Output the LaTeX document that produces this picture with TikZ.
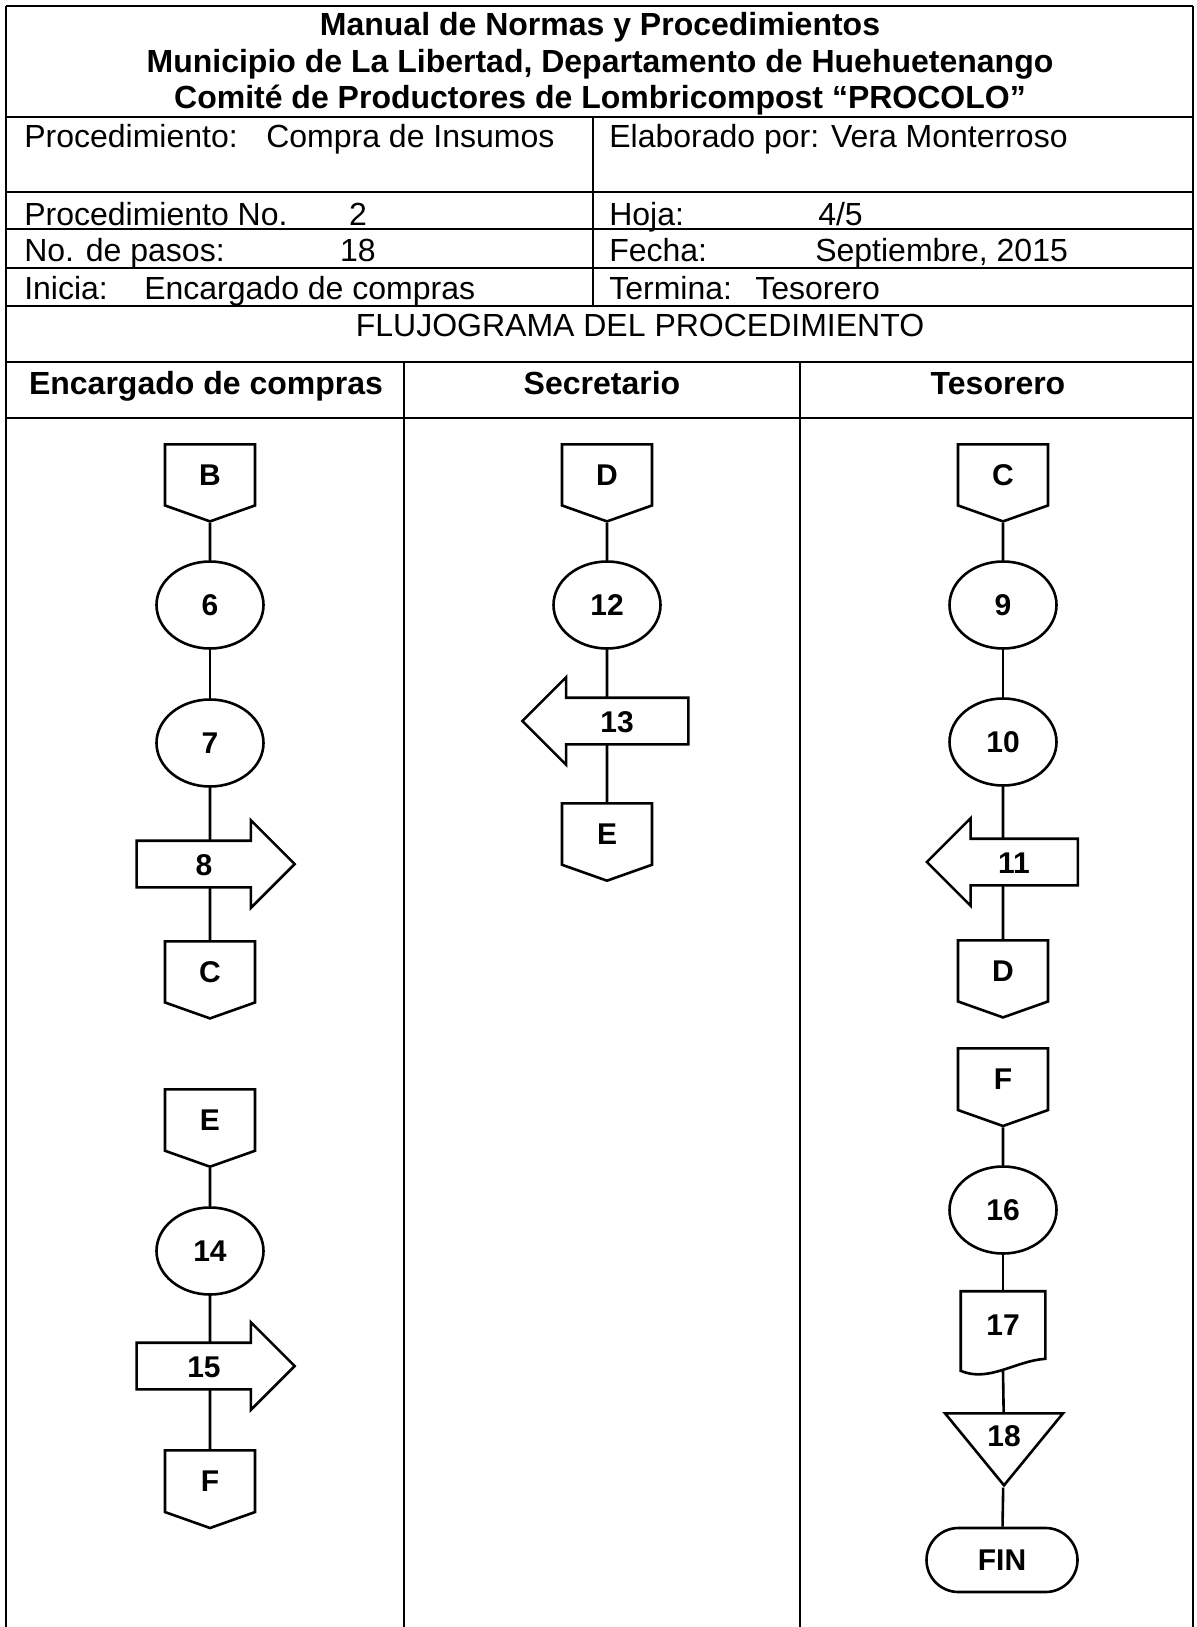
\documentclass[tikz,border=0pt]{standalone}
\usepackage{fontspec}
\setmainfont{Liberation Sans}
\usetikzlibrary{shapes.geometric,shapes.arrows,shapes.symbols,shapes.misc}

\newcommand\cellfont{\fontsize{16}{19}\selectfont}
\newcommand\markfont{\fontsize{15}{18}\selectfont\bfseries}

\tikzset{
  cell/.style={anchor=base west, inner sep=0pt, font=\cellfont},
  heading/.style={anchor=base, inner sep=0pt, font=\cellfont\bfseries},
  proc/.style={draw, ellipse, minimum width=53.5pt, minimum height=43.5pt,
    inner sep=0pt, font=\markfont},
  offpage/.style={draw, signal, signal to=south, signal from=nowhere,
    signal pointer angle=141, minimum width=45pt, minimum height=32.5pt,
    inner sep=0pt, anchor=north, font=\markfont},
  sendright/.style={draw, fill=white, single arrow,
    single arrow head extend=10.25pt, minimum height=79pt, text height=11pt,
    text depth=0pt, inner ysep=5.5pt, inner xsep=2pt, font=\markfont},
  sendleft/.style={sendright, shape border rotate=180},
  docu/.style={minimum width=41pt, minimum height=32.5pt, inner sep=0pt,
    font=\markfont},
  archive/.style={draw, isosceles triangle, shape border rotate=-90,
    isosceles triangle stretches, minimum width=59pt, minimum height=36pt,
    inner sep=0pt, anchor=north, font=\markfont},
  endbox/.style={draw, rounded rectangle, minimum width=75.5pt,
    minimum height=32pt, inner sep=0pt, font=\markfont},
}

\begin{document}
\begin{tikzpicture}[x=0.5pt, y=-0.5pt, line width=1.3pt]
\useasboundingbox (0,0) rectangle (1196,1627);

    % ------------------------------------------------------------
    % frame of the sheet
    % ------------------------------------------------------------
    \draw (6,6) -- (1193,6);
    \draw (6,6) -- (6,1627);
    \draw (1193,6) -- (1193,1627);
    \foreach \y in {117,192,229,268,306,362,418}
        \draw (6,\y) -- (1193,\y);
    \draw (593,117) -- (593,306);
    \draw (404,362) -- (404,1627);
    \draw (800,362) -- (800,1627);

    % ------------------------------------------------------------
    % header
    % ------------------------------------------------------------
    \node[heading] (tit1) at (600,36) {Manual de Normas y Procedimientos};
    \node[heading] (tit2) at (600,73) {Municipio de La Libertad, Departamento de Huehuetenango};
    \node[heading] (tit3) at (600,109) {Comité de Productores de Lombricompost “PROCOLO”};

    \node[cell] (proc) at (23,148) {Procedimiento:};
    \node[cell] (procv) at (265,148) {Compra de Insumos};
    \node[cell] (elab) at (608,148) {Elaborado por: Vera Monterroso};
    \node[cell] (num) at (23,225) {Procedimiento No.};
    \node[cell, anchor=base] (numv) at (358,225) {2};
    \node[cell] (hoja) at (608,225) {Hoja:};
    \node[cell] (hojav) at (817,225) {4/5};
    \node[cell] (pasos) at (23,261) {No. de pasos:};
    \node[cell, anchor=base] (pasosv) at (358,261) {18};
    \node[cell] (fecha) at (608,261) {Fecha:};
    \node[cell] (fechav) at (814,261) {Septiembre, 2015};
    \node[cell] (ini) at (23,299) {Inicia:};
    \node[cell] (iniv) at (143,299) {Encargado de compras};
    \node[cell] (fin) at (608,299) {Termina:};
    \node[cell] (finv) at (754,299) {Tesorero};
    \node[cell, anchor=base] (flujo) at (640,336) {FLUJOGRAMA DEL PROCEDIMIENTO};

    \node[heading] (lane1) at (206,394) {Encargado de compras};
    \node[heading] (lane2) at (602,394) {Secretario};
    \node[heading] (lane3) at (998,394) {Tesorero};

    % ------------------------------------------------------------
    % Encargado de compras
    % ------------------------------------------------------------
    \node[offpage] (b1) at (210,443) {B};
    \node[proc] (p6) at (210,605) {6};
    \node[proc] (p7) at (210,743) {7};
    \node[offpage] (c1) at (210,940) {C};
    \draw (b1) -- (p6);
    \draw (p6) -- (p7);
    \draw (p7) -- (c1);
    \node[sendright] (a8) at (204,864) {8};

    \node[offpage] (e2) at (210,1088) {E};
    \node[proc] (p14) at (210,1251) {14};
    \node[offpage] (f1) at (210,1449) {F};
    \draw (e2) -- (p14);
    \draw (p14) -- (f1);
    \node[sendright] (a15) at (204,1366) {15};

    % ------------------------------------------------------------
    % Secretario
    % ------------------------------------------------------------
    \node[offpage] (d2) at (607,443) {D};
    \node[proc] (p12) at (607,605) {12};
    \node[offpage] (e1) at (607,802) {E};
    \draw (d2) -- (p12);
    \draw (p12) -- (e1);
    \node[sendleft, minimum height=83pt] (a13) at (617,721) {13};

    % ------------------------------------------------------------
    % Tesorero
    % ------------------------------------------------------------
    \node[offpage] (c2) at (1003,443) {C};
    \node[proc] (p9) at (1003,605) {9};
    \node[proc] (p10) at (1003,742) {10};
    \node[offpage] (d1) at (1003,939) {D};
    \draw (c2) -- (p9);
    \draw (p9) -- (p10);
    \draw (p10) -- (d1);
    \node[sendleft, minimum height=75.5pt] (a11) at (1014,862) {11};

    \node[offpage] (f2) at (1003,1047) {F};
    \node[proc] (p16) at (1003,1210) {16};
    \node[docu] (d17) at (1003,1325) {17};
    \draw (d17.north west) -- (d17.north east) -- (d17.south east)
        .. controls +(-30,2) and +(28,12) .. ([yshift=-6pt]d17.south west)
        -- cycle;
    \node[archive] (t18) at (1004,1412) {18};
    \node[endbox] (end) at (1002,1560) {FIN};
    \draw (f2) -- (p16);
    \draw (p16) -- (d17);
    \draw ([yshift=-6pt]d17.south) -- (t18);
    \draw (t18) -- (end);

\end{tikzpicture}
\end{document}
